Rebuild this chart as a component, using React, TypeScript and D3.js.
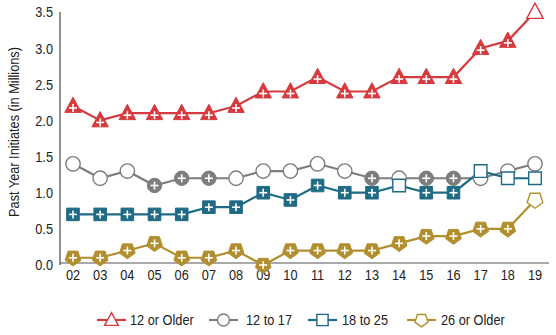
import React from "react";
import * as d3 from "d3";

const years = ["02","03","04","05","06","07","08","09","10","11","12","13","14","15","16","17","18","19"];
const older12 = [2.2,2.0,2.1,2.1,2.1,2.1,2.2,2.4,2.4,2.6,2.4,2.4,2.6,2.6,2.6,3.0,3.1,3.5];
const older12Sig = [1,1,1,1,1,1,1,1,1,1,1,1,1,1,1,1,1,0];
const age12to17 = [1.4,1.2,1.3,1.1,1.2,1.2,1.2,1.3,1.3,1.4,1.3,1.2,1.2,1.2,1.2,1.2,1.3,1.4];
const age12to17Sig = [0,0,0,1,1,1,0,0,0,0,0,1,0,1,1,0,0,0];
const age18to25 = [0.7,0.7,0.7,0.7,0.7,0.8,0.8,1.0,0.9,1.1,1.0,1.0,1.1,1.0,1.0,1.3,1.2,1.2];
const age18to25Sig = [1,1,1,1,1,1,1,1,1,1,1,1,0,1,1,0,0,0];
const older26 = [0.1,0.1,0.2,0.3,0.1,0.1,0.2,0.0,0.2,0.2,0.2,0.2,0.3,0.4,0.4,0.5,0.5,0.9];
const older26Sig = [1,1,1,1,1,1,1,1,1,1,1,1,1,1,1,1,1,0];
const yTicks = [0,0.5,1.0,1.5,2.0,2.5,3.0,3.5];
const seriesNames = ["12 or Older","12 to 17","18 to 25","26 or Older"];

const colors = ["#d63a3e", "#7d7d7d", "#1f6a85", "#b28f2e"];
const shapes = ["triangle", "circle", "square", "pentagon"];

const FONT = "'Liberation Sans', Arial, sans-serif";
const SX = 0.85;

function markerPath(shape: string, s: number): string {
  if (shape === "triangle") {
    const h = s * 0.95;
    return `M0,${-h * 0.62} L${s * 0.55},${h * 0.45} L${-s * 0.55},${h * 0.45} Z`;
  }
  if (shape === "square") {
    const a = s * 0.45;
    return `M${-a},${-a} H${a} V${a} H${-a} Z`;
  }
  if (shape === "pentagon") {
    const r = s * 0.55;
    const pts = d3.range(5).map((i) => {
      const ang = -Math.PI / 2 + (i * 2 * Math.PI) / 5 + Math.PI;
      return [r * Math.cos(ang), r * Math.sin(ang)];
    });
    return "M" + pts.map((p) => p.join(",")).join("L") + "Z";
  }
  const r = s * 0.48;
  return `M${r},0 A${r},${r} 0 1,1 ${-r},0 A${r},${r} 0 1,1 ${r},0 Z`;
}

function Marker({ shape, color, filled, x, y, size = 13 }: any) {
  const plusY = shape === "triangle" ? 2 : 0;
  return (
    <g transform={`translate(${x},${y})`}>
      <path
        d={markerPath(shape, size)}
        fill={filled ? color : "#fff"}
        stroke={color}
        strokeWidth={filled ? 1 : 1.4}
      />
      {filled ? (
        <g stroke="#fff" strokeWidth={1.6}>
          <line x1={-4} x2={4} y1={plusY} y2={plusY} />
          <line x1={0} x2={0} y1={plusY - 4} y2={plusY + 4} />
        </g>
      ) : null}
    </g>
  );
}

function T({ x, y, anchor = "start", size = 15, children }: any) {
  return (
    <text
      transform={`translate(${x},${y}) scale(${SX},1)`}
      dy="0.36em"
      textAnchor={anchor}
      fontSize={size}
      fill="#222"
    >
      {children}
    </text>
  );
}

export default function App() {
  const W = 556, H = 335;
  const left = 60, right = 549, top = 12, bottom = 265;
  const x = d3.scalePoint<string>().domain(years).range([73, 535]);
  const y = d3.scaleLinear().domain([0, 3.5]).range([bottom, top]);
  const data = [older12, age12to17, age18to25, older26];
  const sigs = [older12Sig, age12to17Sig, age18to25Sig, older26Sig];
  const line = d3.line<number>().x((_, i) => x(years[i])!).y((d) => y(d));

  const legendX = [97, 209, 308, 407];
  const legendTextX = [130, 246, 342, 441];
  const legendY = 320;

  return (
    <svg width={W} height={H} style={{ position: "absolute", left: 0, top: 0 }} fontFamily={FONT}>
      <rect width={W} height={H} fill="#fff" />
      <line x1={left} x2={left} y1={top} y2={bottom} stroke="#222" strokeWidth={1} />
      <line x1={left} x2={right} y1={bottom - 2} y2={bottom - 2} stroke="#555" strokeWidth={1.2} />
      {yTicks.map((t) => (
        <T key={t} x={53} y={y(t)} anchor="end">
          {t.toFixed(1)}
        </T>
      ))}
      {years.map((yr) => (
        <T key={yr} x={x(yr)} y={275} anchor="middle">
          {yr}
        </T>
      ))}
      <text
        transform={`translate(19,132) rotate(-90) scale(${SX},1)`}
        textAnchor="middle"
        fontSize={15}
        fill="#222"
      >
        Past Year Initiates (in Millions)
      </text>
      {data.map((vals, si) => (
        <path key={si} d={line(vals)!} fill="none" stroke={colors[si]} strokeWidth={2.2} />
      ))}
      {data.map((vals, si) =>
        vals.map((v, i) => (
          <Marker
            key={`${si}-${i}`}
            shape={shapes[si]}
            color={colors[si]}
            filled={sigs[si][i] === 1}
            x={x(years[i])}
            y={y(v)}
            size={si === 2 ? 14 : 15}
          />
        ))
      )}
      {seriesNames.map((n, si) => (
        <g key={n}>
          <line x1={legendX[si]} x2={legendX[si] + 29} y1={legendY} y2={legendY} stroke={colors[si]} strokeWidth={2.2} />
          <Marker shape={shapes[si]} color={colors[si]} filled={false} x={legendX[si] + 14.5} y={legendY} size={12.5} />
          <T x={legendTextX[si]} y={legendY}>
            {n}
          </T>
        </g>
      ))}
    </svg>
  );
}
